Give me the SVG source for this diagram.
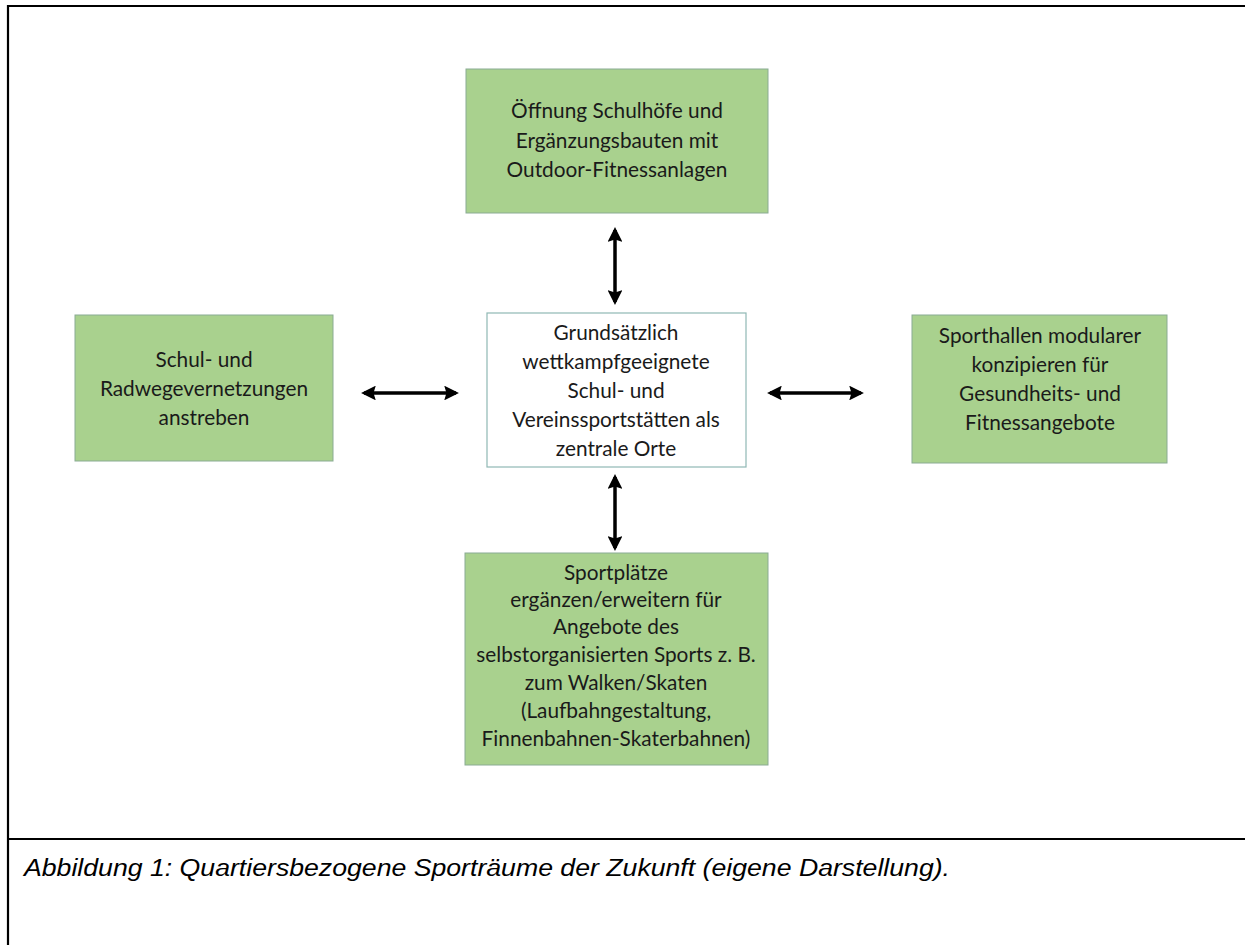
<svg xmlns="http://www.w3.org/2000/svg" width="1245" height="945" viewBox="0 0 1245 945">
<defs>
<style>
.g{fill:#a9d18e;stroke:#8aab93;stroke-width:1}
.w{fill:#ffffff;stroke:#8fb8b4;stroke-width:1.2}
.t{font-family:Lato,"Open Sans",sans-serif;font-size:20.8px;fill:#1a1a1a;text-anchor:middle}
.c{stroke:#000;stroke-width:3.5;fill:none;marker-start:url(#a);marker-end:url(#a)}
.cap{font-family:"Liberation Sans",Arial,sans-serif;font-style:italic;font-size:23px;fill:#000}
</style>
<marker id="a" viewBox="0 0 10 10" refX="8" refY="5" markerWidth="4.2" markerHeight="4.2" orient="auto-start-reverse" markerUnits="strokeWidth">
<path d="M0,0 L10,5 L0,10 L1.5,5 z" fill="#000"/>
</marker>
</defs>
<rect width="1245" height="945" fill="#fff"/>
<g id="frame" fill="none" stroke="#000" stroke-width="2.2">
<path d="M8,945 V6 H1245"/>
<path d="M8,839 H1245"/>
</g>
<g id="connectors">
<line class="c" x1="615" y1="230" x2="615" y2="302"/>
<line class="c" x1="615" y1="477" x2="615" y2="548"/>
<line class="c" x1="364" y1="393" x2="456" y2="393"/>
<line class="c" x1="770" y1="393" x2="861" y2="393"/>
</g>
<g id="n-top">
<rect class="g" x="466" y="69" width="302" height="144"/>
<text class="t" x="617"><tspan x="617" y="118">Öffnung Schulhöfe und</tspan><tspan x="617" y="148">Ergänzungsbauten mit</tspan><tspan x="617" y="177">Outdoor-Fitnessanlagen</tspan></text>
</g>
<g id="n-center">
<rect class="w" x="487" y="313" width="259" height="154"/>
<text class="t" x="616"><tspan x="616" y="340">Grundsätzlich</tspan><tspan x="616" y="369">wettkampfgeeignete</tspan><tspan x="616" y="398">Schul- und</tspan><tspan x="616" y="427">Vereinssportstätten als</tspan><tspan x="616" y="456">zentrale Orte</tspan></text>
</g>
<g id="n-left">
<rect class="g" x="75" y="315" width="258" height="146"/>
<text class="t" x="204"><tspan x="204" y="367">Schul- und</tspan><tspan x="204" y="396">Radwegevernetzungen</tspan><tspan x="204" y="425">anstreben</tspan></text>
</g>
<g id="n-right">
<rect class="g" x="912" y="315" width="255" height="148"/>
<text class="t" x="1040"><tspan x="1040" y="343">Sporthallen modularer</tspan><tspan x="1040" y="372">konzipieren für</tspan><tspan x="1040" y="401">Gesundheits- und</tspan><tspan x="1040" y="430">Fitnessangebote</tspan></text>
</g>
<g id="n-bottom">
<rect class="g" x="465" y="553" width="303" height="212"/>
<text class="t" x="616"><tspan x="616" y="580">Sportplätze</tspan><tspan x="616" y="607">ergänzen/erweitern für</tspan><tspan x="616" y="634">Angebote des</tspan><tspan x="616" y="662">selbstorganisierten Sports z. B.</tspan><tspan x="616" y="690">zum Walken/Skaten</tspan><tspan x="616" y="718">(Laufbahngestaltung,</tspan><tspan x="616" y="746">Finnenbahnen-Skaterbahnen)</tspan></text>
</g>
<text class="cap" x="24" y="876" textLength="926" lengthAdjust="spacingAndGlyphs">Abbildung 1: Quartiersbezogene Sporträume der Zukunft (eigene Darstellung).</text>
</svg>
